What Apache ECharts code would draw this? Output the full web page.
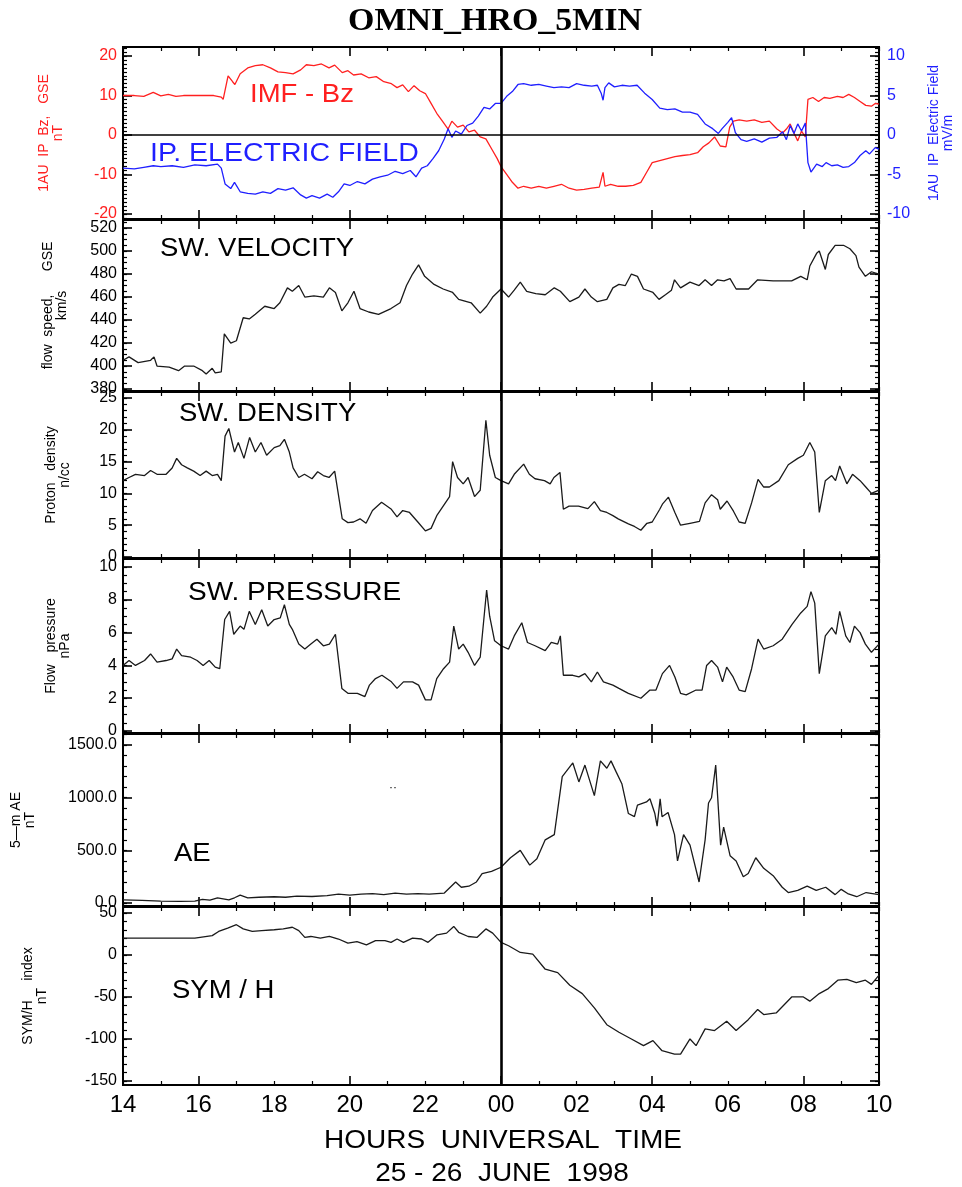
<!DOCTYPE html>
<html><head><meta charset="utf-8">
<script src="https://cdn.jsdelivr.net/npm/echarts@6/dist/echarts.min.js"></script>
<style>html,body{margin:0;padding:0;background:#fff}#c{width:962px;height:1187px}</style>
</head><body><div id="c"></div>
<script>
// ---- time axis (hours since 14:00 UT, 25 June 1998) ----
const HOURS = [0,2,4,6,8,10,12,14,16,18,20];
const HOUR_LABELS = ['14','16','18','20','22','00','02','04','06','08','10'];
const MAJOR_X_TICKS = [2,6,10,14,18];
const MIDNIGHT = 10;

// ---- series values: [hour, value] ----
const bzData = [[0,10],[0.3,10],[0.55,9.8],[0.8,10.8],[1.0,9.9],[1.2,10.3],[1.4,9.8],[1.6,10],[2.0,10],[2.4,10],[2.6,9.6],[2.65,9],[2.78,15],[2.9,13.5],[2.96,12.8],[3.1,15.5],[3.3,17],[3.5,17.6],[3.7,17.8],[3.9,17],[4.1,16],[4.3,15.8],[4.5,15.5],[4.7,16.5],[4.85,17.8],[5.05,17.6],[5.25,18],[5.45,17],[5.6,17.7],[5.8,15.8],[5.95,16.3],[6.1,15.2],[6.3,15.5],[6.5,14.5],[6.7,14.8],[6.9,13.5],[7.1,13],[7.25,12],[7.4,12.7],[7.55,11],[7.7,12.5],[7.85,11.2],[8.0,10.5],[8.15,8],[8.3,5.5],[8.45,3.5],[8.6,1.5],[8.7,3.5],[8.85,2],[9.0,2.5],[9.15,0.8],[9.3,1.2],[9.45,-0.5],[9.6,-1],[9.75,-3.5],[9.9,-6],[10.0,-8],[10.15,-10],[10.3,-12],[10.45,-13.5],[10.6,-13],[10.8,-13.5],[11.0,-13],[11.2,-13.5],[11.4,-13],[11.6,-12.5],[11.8,-13.5],[12.0,-14],[12.2,-13.8],[12.4,-13.5],[12.6,-13.2],[12.7,-9.5],[12.75,-13],[12.9,-12.5],[13.1,-13],[13.3,-13],[13.5,-12.8],[13.7,-12],[13.85,-9.5],[14.0,-7],[14.2,-6.5],[14.4,-6],[14.6,-5.5],[14.8,-5.2],[15.0,-5],[15.2,-4.5],[15.35,-3],[15.5,-2],[15.65,-0.5],[15.8,-2.8],[15.95,-3],[16.05,2],[16.15,3.5],[16.3,3.8],[16.5,3.5],[16.7,3.8],[16.9,3.2],[17.1,3.5],[17.3,1.5],[17.45,0.5],[17.55,1.5],[17.65,2.8],[17.75,0.5],[17.85,-1.5],[17.95,1],[18.05,-0.5],[18.12,9],[18.25,9.5],[18.4,8.5],[18.55,9.5],[18.7,9.3],[18.9,9.8],[19.05,9.5],[19.2,10.3],[19.35,9.5],[19.5,8.5],[19.65,7.5],[19.8,7.3],[19.9,8],[20,7.8]];

const efieldData = [[0,-4.2],[0.3,-4.3],[0.55,-4.1],[0.8,-3.9],[1.0,-4.0],[1.3,-3.9],[1.6,-4.1],[1.9,-3.8],[2.2,-3.9],[2.5,-3.7],[2.6,-4.2],[2.7,-6.2],[2.85,-6.8],[2.95,-6],[3.1,-7.2],[3.3,-7.4],[3.5,-7.5],[3.7,-7.2],[3.9,-7.4],[4.1,-6.8],[4.3,-7.0],[4.5,-6.7],[4.7,-7.6],[4.85,-8.0],[5.0,-7.7],[5.2,-8.0],[5.4,-7.5],[5.55,-7.9],[5.7,-7.2],[5.85,-6.2],[6.0,-6.4],[6.2,-5.9],[6.4,-6.2],[6.6,-5.6],[6.8,-5.3],[7.0,-5.1],[7.2,-4.6],[7.4,-4.9],[7.6,-4.5],[7.75,-5.3],[7.9,-4.2],[8.05,-3.9],[8.2,-3.0],[8.35,-2],[8.5,-0.5],[8.6,0.8],[8.7,-0.3],[8.8,0.5],[8.95,0.1],[9.1,1.2],[9.25,1.5],[9.4,2.4],[9.55,3.5],[9.7,3.3],[9.85,4.0],[10.0,4.0],[10.15,4.9],[10.3,5.5],[10.45,6.4],[10.6,6.5],[10.8,6.3],[11.0,6.4],[11.2,6.2],[11.4,6.0],[11.6,6.1],[11.8,6.0],[12.0,6.5],[12.2,6.3],[12.4,6.2],[12.55,6.3],[12.65,5.3],[12.7,4.4],[12.75,6.0],[12.85,6.6],[13.0,6.1],[13.2,6.3],[13.4,6.2],[13.6,6.3],[13.8,5.3],[14.0,4.5],[14.2,3.4],[14.4,3.2],[14.6,3.3],[14.8,2.9],[15.0,2.9],[15.2,2.6],[15.4,1.4],[15.6,0.8],[15.75,0.2],[15.85,0.8],[16.0,1.6],[16.1,2.2],[16.2,0.3],[16.35,-0.6],[16.5,-0.8],[16.7,-0.5],[16.9,-0.9],[17.1,-0.4],[17.3,-0.3],[17.45,0.4],[17.55,-0.6],[17.65,1.2],[17.75,0.2],[17.85,1.4],[17.95,0.5],[18.05,1.5],[18.12,-3.5],[18.2,-4.7],[18.35,-3.7],[18.5,-4.0],[18.6,-3.5],[18.75,-3.9],[18.9,-3.8],[19.05,-4.1],[19.2,-4.0],[19.35,-3.5],[19.5,-2.6],[19.65,-2.0],[19.75,-2.4],[19.9,-1.6],[20,-1.8]];

const velocityData = [[0,405],[0.16,408],[0.4,403],[0.73,405],[0.82,408],[0.9,400],[1.22,399],[1.47,396],[1.63,400],[1.87,400],[2.1,396],[2.2,393],[2.36,398],[2.44,394],[2.6,395],[2.68,428],[2.85,420],[3.0,422],[3.18,442],[3.34,441],[3.5,445],[3.75,452],[4.0,450],[4.15,455],[4.35,468],[4.48,465],[4.65,470],[4.81,460],[5.05,461],[5.3,460],[5.46,468],[5.62,464],[5.79,448],[5.95,455],[6.11,465],[6.27,450],[6.5,447],[6.76,445],[7.09,450],[7.33,455],[7.5,470],[7.66,480],[7.82,488],[7.98,478],[8.23,471],[8.47,467],[8.72,464],[8.88,458],[9.21,455],[9.45,446],[9.62,452],[9.78,460],[10.0,467],[10.2,460],[10.35,466],[10.51,473],[10.68,465],[10.92,463],[11.17,462],[11.41,468],[11.57,465],[11.82,456],[12.06,460],[12.22,467],[12.39,460],[12.55,456],[12.8,458],[12.96,468],[13.12,471],[13.29,470],[13.45,480],[13.61,478],[13.77,467],[14.02,464],[14.18,458],[14.35,462],[14.51,466],[14.59,475],[14.75,468],[15.0,473],[15.24,470],[15.4,475],[15.57,470],[15.73,475],[15.9,474],[16.06,476],[16.22,467],[16.55,467],[16.79,475],[17.2,474],[17.69,474],[17.93,478],[18.1,475],[18.17,487],[18.35,498],[18.42,500],[18.58,484],[18.66,497],[18.84,505],[19.06,505],[19.23,502],[19.39,496],[19.47,486],[19.64,478],[19.8,482],[20,480]];

const densityData = [[0,12],[0.16,12.5],[0.33,13],[0.57,12.8],[0.73,13.6],[0.9,13],[1.14,13],[1.3,14],[1.42,15.5],[1.55,14.5],[1.7,14],[1.87,13.5],[2.04,12.8],[2.2,13.5],[2.36,12.8],[2.5,13],[2.6,12],[2.7,19],[2.8,20.2],[2.95,16.5],[3.05,18],[3.2,15.5],[3.35,18.8],[3.5,16.5],[3.65,18],[3.8,16],[4.0,17.2],[4.15,17.5],[4.27,18.5],[4.4,16.5],[4.5,14],[4.65,12.5],[4.8,13],[5.0,12.3],[5.15,13.4],[5.3,12.8],[5.45,12.5],[5.6,13.5],[5.8,6],[5.95,5.4],[6.1,5.5],[6.27,6],[6.43,5.3],[6.6,7.3],[6.84,8.6],[7.1,7.5],[7.25,6.3],[7.4,7.3],[7.58,7],[7.8,5.5],[8.0,4.1],[8.15,4.5],[8.3,6.5],[8.47,8],[8.64,9.5],[8.72,15],[8.85,12.5],[9.0,11.5],[9.13,12.5],[9.3,9.5],[9.45,10.5],[9.6,21.5],[9.7,16],[9.85,12.5],[10.0,12],[10.2,11.5],[10.35,13],[10.6,14.6],[10.75,13],[10.9,12.3],[11.15,12],[11.3,11.5],[11.4,12.5],[11.56,13.3],[11.65,7.5],[11.8,8],[12.05,8],[12.3,7.6],[12.47,8.7],[12.63,7.3],[12.8,7],[12.96,6.5],[13.1,6],[13.37,5.2],[13.53,4.8],[13.7,4.2],[13.86,5.3],[14.0,5.5],[14.2,7.5],[14.27,8.3],[14.43,9.4],[14.6,7],[14.75,5],[15.0,5.3],[15.25,5.6],[15.4,8.5],[15.57,9.8],[15.73,9],[15.8,7.5],[15.98,8.8],[16.15,7.2],[16.3,5.5],[16.46,5.3],[16.63,8.5],[16.8,12.2],[16.95,11],[17.1,11],[17.35,12],[17.6,14.5],[17.85,15.5],[18.0,16],[18.17,18],[18.3,16.5],[18.42,7],[18.58,12],[18.75,12.8],[18.85,12],[18.96,14.3],[19.15,11.5],[19.3,13],[19.5,12],[19.65,11],[19.8,10],[20,10.5]];

const pressureData = [[0,4],[0.16,4.3],[0.33,4.0],[0.57,4.3],[0.73,4.7],[0.9,4.2],[1.14,4.3],[1.3,4.4],[1.42,5.0],[1.55,4.6],[1.79,4.5],[1.96,4.3],[2.12,4.0],[2.28,4.3],[2.44,3.9],[2.56,3.8],[2.69,6.8],[2.82,7.3],[2.93,5.9],[3.1,6.4],[3.2,6.2],[3.34,7.3],[3.5,6.5],[3.67,7.4],[3.83,6.4],[4.0,6.8],[4.16,6.9],[4.27,7.7],[4.4,6.5],[4.48,6.2],[4.65,5.3],[4.81,5.0],[4.97,5.3],[5.13,5.6],[5.3,5.2],[5.46,5.3],[5.62,5.9],[5.79,2.6],[5.95,2.3],[6.2,2.3],[6.4,2.1],[6.52,2.8],[6.68,3.2],[6.85,3.4],[7.1,3.0],[7.25,2.6],[7.42,3.0],[7.66,3.0],[7.82,2.8],[8.0,1.9],[8.15,1.9],[8.3,3.2],[8.48,3.8],[8.64,4.2],[8.75,6.4],[8.88,5.0],[9.0,5.3],[9.13,4.8],[9.3,4.0],[9.45,4.5],[9.62,8.6],[9.7,7.0],[9.83,5.5],[10.0,5.2],[10.2,5.0],[10.35,5.8],[10.55,6.6],[10.7,5.4],[10.9,5.2],[11.17,4.9],[11.33,5.4],[11.5,5.3],[11.57,5.8],[11.65,3.4],[11.9,3.4],[12.06,3.3],[12.22,3.5],[12.39,3.0],[12.55,3.6],[12.71,3.0],[12.96,2.8],[13.12,2.6],[13.37,2.3],[13.7,2.0],[13.94,2.5],[14.1,2.5],[14.27,3.5],[14.46,4.0],[14.6,3.3],[14.75,2.3],[14.9,2.2],[15.16,2.5],[15.32,2.5],[15.44,4.0],[15.57,4.3],[15.73,3.9],[15.86,3.0],[15.97,3.9],[16.14,3.3],[16.3,2.5],[16.46,2.4],[16.63,3.8],[16.8,5.6],[16.95,5.0],[17.2,5.2],[17.44,5.6],[17.7,6.5],[17.93,7.2],[18.1,7.6],[18.2,8.5],[18.3,7.8],[18.42,3.5],[18.58,5.8],[18.75,6.3],[18.86,5.9],[18.96,7.3],[19.12,5.8],[19.23,5.4],[19.35,6.4],[19.5,6.0],[19.64,5.3],[19.8,4.8],[20,5.3]];

const aeData = [[0,30],[0.5,25],[1.0,18],[1.5,15],[1.9,18],[2.1,35],[2.3,28],[2.5,50],[2.65,40],[2.8,30],[2.95,50],[3.1,75],[3.3,50],[3.6,55],[4.0,60],[4.3,55],[4.6,65],[5.0,62],[5.4,70],[5.7,85],[6.0,75],[6.3,85],[6.6,90],[6.9,80],[7.2,95],[7.5,85],[7.8,90],[8.1,85],[8.5,95],[8.8,200],[8.95,150],[9.15,160],[9.35,200],[9.5,280],[9.75,300],[10.0,340],[10.25,430],[10.51,500],[10.76,360],[10.95,420],[11.17,600],[11.41,650],[11.62,1200],[11.9,1330],[12.06,1150],[12.22,1310],[12.47,1020],[12.63,1350],[12.8,1280],[12.91,1350],[13.04,1250],[13.2,1130],[13.37,850],[13.53,820],[13.61,930],[13.85,960],[13.94,990],[14.07,850],[14.13,730],[14.21,990],[14.26,820],[14.42,860],[14.59,650],[14.67,400],[14.83,650],[15.0,550],[15.24,200],[15.4,600],[15.49,950],[15.57,1000],[15.68,1310],[15.81,550],[15.89,720],[16.06,450],[16.22,400],[16.41,250],[16.54,280],[16.74,430],[16.95,330],[17.2,260],[17.44,150],[17.6,100],[17.85,120],[18.1,160],[18.34,120],[18.59,150],[18.84,80],[19.0,130],[19.17,90],[19.41,60],[19.66,100],[20,80]];

const symhData = [[0,20],[1.9,20],[2.04,21],[2.36,23],[2.53,28],[2.77,32],[3.0,36],[3.18,31],[3.42,28],[3.67,29],[4.0,30],[4.24,31],[4.48,33],[4.65,29],[4.81,21],[4.97,22],[5.22,20],[5.46,22],[5.7,19],[5.95,14],[6.19,16],[6.44,12],[6.68,17],[6.93,17],[7.09,15],[7.25,19],[7.42,15],[7.66,20],[7.9,19],[8.07,15],[8.31,24],[8.56,26],[8.75,34],[8.88,27],[9.13,22],[9.37,21],[9.6,31],[9.78,26],[10.0,15],[10.2,11],[10.51,3],[10.84,1],[11.17,-17],[11.5,-21],[11.82,-36],[12.15,-46],[12.47,-63],[12.8,-83],[13.12,-92],[13.45,-100],[13.77,-108],[14.02,-102],[14.26,-114],[14.59,-118],[14.75,-118],[15.0,-100],[15.16,-108],[15.4,-88],[15.65,-90],[15.97,-79],[16.22,-90],[16.54,-77],[16.79,-65],[16.95,-71],[17.28,-69],[17.69,-50],[18.0,-50],[18.17,-55],[18.42,-46],[18.66,-40],[18.91,-30],[19.15,-29],[19.4,-33],[19.64,-30],[19.8,-35],[20,-24]];

// ---- tick labels ----
const bzTicks = [-20,-10,0,10,20];
const efTicks = [-10,-5,0,5,10];
const velTicks = [380,400,420,440,460,480,500,520];
const denTicks = [0,5,10,15,20,25];
const presTicks = [0,2,4,6,8,10];
const aeTicks = [0,500,1000,1500];
const symTicks = [-150,-100,-50,0,50];

const RED = '#ff2020', BLUE = '#1f1fff', INK = '#1a1a1a';
const FONT = '"Liberation Sans", Arial, sans-serif';

function range(a, b, s) { const r = []; for (let v = a; v <= b + 1e-9; v += s) r.push(+v.toFixed(6)); return r; }
function minorOf(min, max, step) { return range(Math.ceil(min / step) * step, max, step); }

const panels = [
  {top:47, height:172, min:-21.3, max:22.3, ticks:bzTicks, minor:1, color:RED, name:'1AU  IP  Bz,   GSE\nnT', nameGap:58,
   right:{min:-10.65, max:11.15, ticks:efTicks, minor:0.5, color:BLUE, name:'1AU  IP  Electric Field\nmV/m', nameGap:48},
   series:[{data:bzData, color:RED, yRight:false}, {data:efieldData, color:BLUE, yRight:true}], zero:true},
  {top:220, height:171, min:378.3, max:527, ticks:velTicks, minor:5, color:'#000', name:'flow  speed,      GSE\nkm/s', nameGap:54,
   series:[{data:velocityData, color:INK}]},
  {top:392, height:166, min:-0.16, max:25.94, ticks:denTicks, minor:1, color:'#000', name:'Proton   density\nn/cc', nameGap:51,
   series:[{data:densityData, color:INK}]},
  {top:559, height:174, min:-0.12, max:10.49, ticks:presTicks, minor:0.5, color:'#000', name:'Flow   pressure\nnPa', nameGap:51,
   series:[{data:pressureData, color:INK}]},
  {top:734, height:172, min:-28, max:1605, ticks:aeTicks, minor:100, color:'#000', name:'5\u2014m AE\nnT', nameGap:86, fmt:v => v.toFixed(1),
   series:[{data:aeData, color:INK}]},
  {top:907, height:178, min:-154.8, max:57.1, ticks:symTicks, minor:10, color:'#000', name:'SYM/H     index\nnT', nameGap:74,
   series:[{data:symhData, color:INK}]}
];

const option = {animation:false, backgroundColor:'#fff', grid:[], xAxis:[], yAxis:[], series:[], graphic:[]};
const tickLine = {color:'#000', width:1.6};
const minorLine = {color:'#000', width:1.2};
const noLine = {show:false, onZero:false};

panels.forEach((p, i) => {
  const last = i === panels.length - 1;
  option.grid.push({left:123, width:756, top:p.top, height:p.height, show:true, borderColor:'#000', borderWidth:2,
    containLabel:false, outerBoundsMode:'none'});
  const xb = {gridIndex:i, type:'value', min:0, max:20, axisLine:noLine, splitLine:{show:false}};
  const minorHours = range(0, 20, 1).filter(h => MAJOR_X_TICKS.indexOf(h) < 0);
  option.xAxis.push(Object.assign({}, xb, {position:'bottom',
    axisTick:{show:true, inside:true, length:9, customValues:MAJOR_X_TICKS, lineStyle:tickLine},
    axisLabel: last ? {show:true, customValues:HOURS, formatter:v => HOUR_LABELS[Math.round(v / 2)],
      fontSize:24, fontFamily:FONT, color:'#000', margin:8} : {show:false}}));
  option.xAxis.push(Object.assign({}, xb, {position:'bottom',
    axisTick:{show:true, inside:true, length:4, customValues:minorHours, lineStyle:minorLine}, axisLabel:{show:false}}));
  option.xAxis.push(Object.assign({}, xb, {position:'top',
    axisTick:{show:true, inside:true, length:9, customValues:MAJOR_X_TICKS, lineStyle:tickLine}, axisLabel:{show:false}}));
  option.xAxis.push(Object.assign({}, xb, {position:'top',
    axisTick:{show:true, inside:true, length:4, customValues:minorHours, lineStyle:minorLine}, axisLabel:{show:false}}));

  const yb = {gridIndex:i, type:'value', min:p.min, max:p.max, axisLine:noLine, splitLine:{show:false}};
  const nameStyle = (c) => ({fontSize:14, fontFamily:FONT, color:c, lineHeight:14});
  option.yAxis.push(Object.assign({}, yb, {position:'left',
    axisTick:{show:true, inside:true, length:9, customValues:p.ticks, lineStyle:tickLine},
    axisLabel:{show:true, customValues:p.ticks, formatter:p.fmt || (v => String(v)), fontSize:16, fontFamily:FONT, color:p.color, margin:6},
    name:p.name, nameLocation:'middle', nameRotate:90, nameGap:p.nameGap, nameMoveOverlap:false, nameTextStyle:nameStyle(p.color)}));
  option.yAxis.push(Object.assign({}, yb, {position:'left',
    axisTick:{show:true, inside:true, length:4, customValues:minorOf(p.min, p.max, p.minor), lineStyle:minorLine}, axisLabel:{show:false}}));
  const r = p.right;
  const rb = r ? Object.assign({}, yb, {min:r.min, max:r.max}) : yb;
  option.yAxis.push(Object.assign({}, rb, {position:'right',
    axisTick:{show:true, inside:true, length:9, customValues:r ? r.ticks : p.ticks, lineStyle:tickLine},
    axisLabel: r ? {show:true, customValues:r.ticks, fontSize:16, fontFamily:FONT, color:r.color, margin:8} : {show:false},
    name: r ? r.name : '', nameLocation:'middle', nameRotate:90, nameGap: r ? r.nameGap : 0, nameMoveOverlap:false,
    nameTextStyle: nameStyle(r ? r.color : '#000')}));
  option.yAxis.push(Object.assign({}, rb, {position:'right',
    axisTick:{show:true, inside:true, length:4, customValues: r ? minorOf(r.min, r.max, r.minor) : minorOf(p.min, p.max, p.minor), lineStyle:minorLine},
    axisLabel:{show:false}}));

  p.series.forEach((s, k) => {
    const ser = {type:'line', xAxisIndex:i * 4, yAxisIndex:i * 4 + (s.yRight ? 2 : 0), data:s.data, showSymbol:false,
      lineStyle:{color:s.color, width:1.3}, itemStyle:{color:s.color}, silent:true, z:3};
    if (k === 0) {
      const ml = [{xAxis:MIDNIGHT, lineStyle:{color:'#000', width:2.6, type:'solid'}}];
      if (p.zero) ml.push({yAxis:0, lineStyle:{color:'#000', width:1.6, type:'solid'}});
      ser.markLine = {silent:true, symbol:'none', label:{show:false}, animation:false, data:ml, z:5};
    }
    option.series.push(ser);
  });
});

function txt(text, x, y, size, color, opts) {
  opts = opts || {};
  return {type:'text', x:x, y:y, scaleX:opts.sx || 1.1, silent:true, z:50,
    style:{text:text, font:(opts.weight || 'normal') + ' ' + size + 'px ' + (opts.family || FONT), fill:color,
      textAlign:opts.align || 'left', textVerticalAlign:'middle'}};
}
option.graphic = [
  txt('OMNI_HRO_5MIN', 495, 22, 32, '#000', {align:'center', family:'"Liberation Serif", "Times New Roman", serif', weight:'bold', sx:1.06}),
  txt('IMF - Bz', 250, 95, 25, RED),
  txt('IP. ELECTRIC FIELD', 150, 154, 25, BLUE, {sx:1.14}),
  txt('SW. VELOCITY', 160, 249, 25, '#000'),
  txt('SW. DENSITY', 179, 414, 25, '#000'),
  txt('SW. PRESSURE', 188, 593, 25, '#000', {sx:1.12}),
  txt('AE', 174, 854, 25, '#000'),
  txt('SYM / H', 172, 991, 25, '#000'),
  txt('\u00b7\u00b7', 389, 788, 12, '#000', {sx:1}),
  txt('HOURS  UNIVERSAL  TIME', 503, 1141, 25, '#000', {align:'center', sx:1.12}),
  txt('25 - 26  JUNE  1998', 502, 1174, 25, '#000', {align:'center', sx:1.12})
];

const chart = echarts.init(document.getElementById('c'), null, {renderer:'canvas'});
chart.setOption(option);
</script>
</body></html>
